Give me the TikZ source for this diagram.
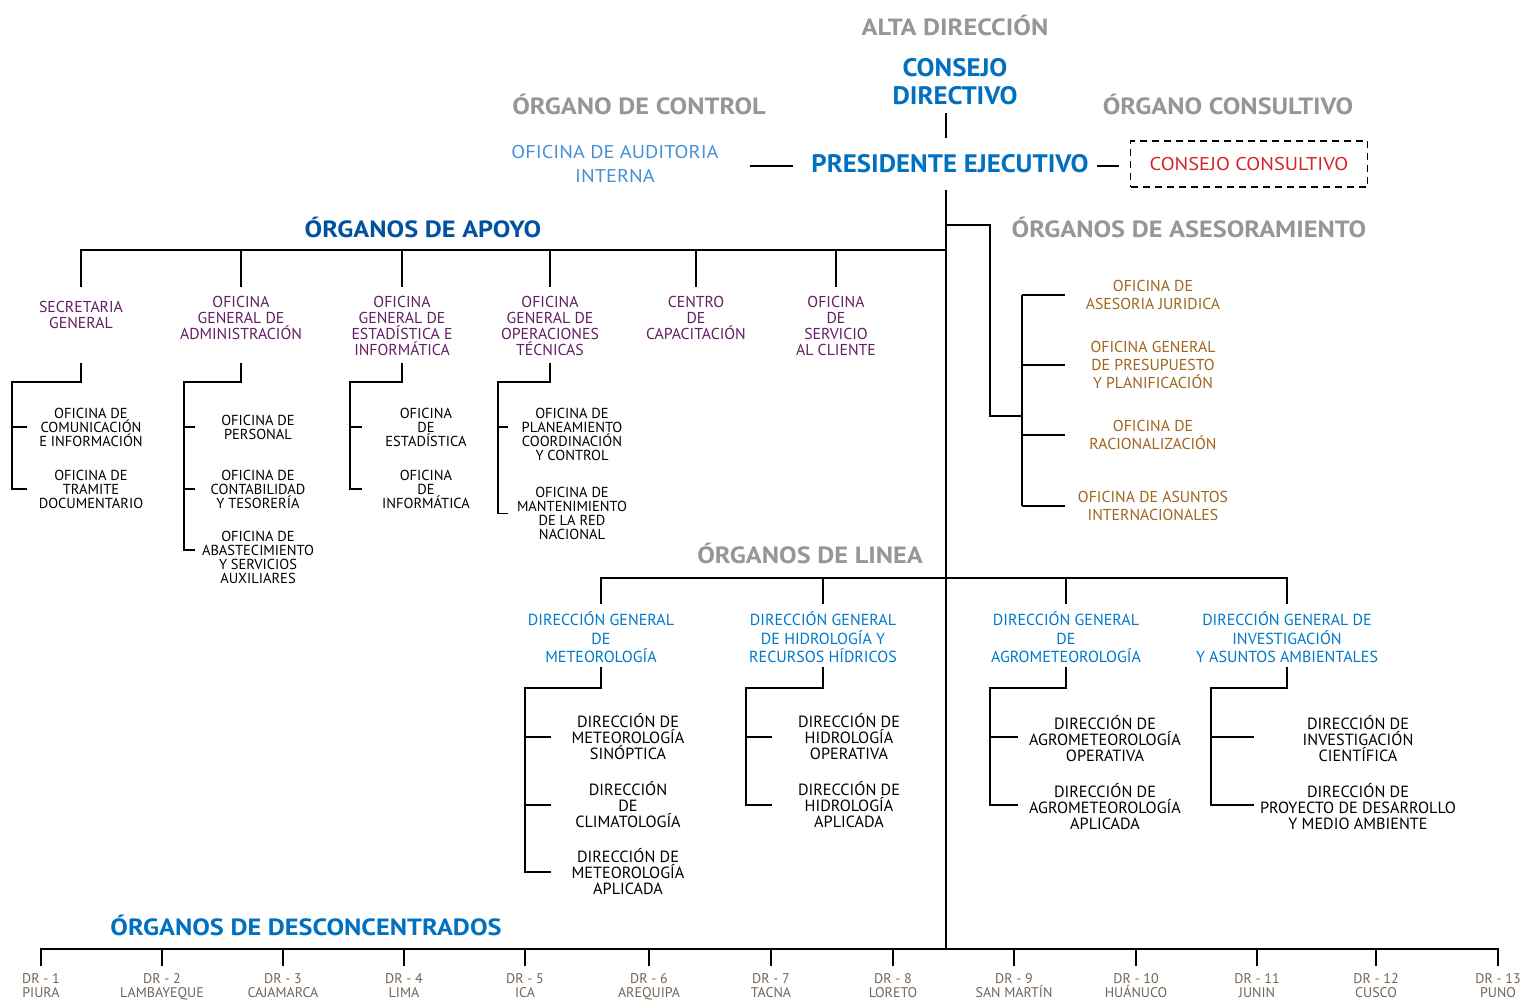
\documentclass[tikz,border=0pt]{standalone}
\usepackage{fontspec}
\setmainfont{PT Sans}
\newfontfamily\headfont{PT Sans}[FakeStretch=1.12]
\newfontfamily\jefefont{PT Sans}[FakeStretch=1.06]
\newfontfamily\anchafont{PT Sans}[FakeStretch=1.1]
\usepackage{xcolor}
\definecolor{grisT}{RGB}{150,150,150}
\definecolor{azulD}{RGB}{0,112,192}
\definecolor{azulA}{RGB}{0,82,160}
\definecolor{celeste}{RGB}{70,145,210}
\definecolor{azulL}{RGB}{0,120,200}
\definecolor{morado}{RGB}{100,30,100}
\definecolor{marron}{RGB}{160,100,30}
\definecolor{rojoC}{RGB}{215,35,40}
\definecolor{grisDR}{RGB}{115,100,85}
\tikzset{
  every node/.style={inner sep=0pt, align=center},
  titulo/.style={font=\headfont\bfseries\fontsize{23.5}{26}\selectfont, text=grisT},
  grupo/.style={font=\headfont\bfseries\fontsize{23.5}{26}\selectfont},
  jefe/.style={font=\jefefont\bfseries\fontsize{25.3}{28}\selectfont, text=azulD},
  audit/.style={font=\anchafont\fontsize{18.5}{24}\selectfont, text=celeste},
  consejo/.style={font=\anchafont\fontsize{18.5}{24}\selectfont, text=rojoC, draw, dash pattern=on 7pt off 5pt,
    minimum width=237pt, minimum height=46pt},
  apoyo/.style={font=\fontsize{15.8}{16}\selectfont, text=morado},
  sub/.style={font=\fontsize{14.5}{14}\selectfont},
  ases/.style={font=\fontsize{15.8}{18}\selectfont, text=marron},
  linea/.style={font=\fontsize{16}{18.5}\selectfont, text=azulL},
  subl/.style={font=\fontsize{16.2}{16}\selectfont},
  dr/.style={font=\fontsize{14}{13.5}\selectfont, text=grisDR, anchor=north}
}
\begin{document}
\begin{tikzpicture}[x=1pt,y=-1pt,line width=1.6pt]
  \useasboundingbox (0,0) rectangle (1525,999);
  % alta direccion
  \node[titulo] (alta) at (955,25) {ALTA DIRECCIÓN};
  \node[jefe] (cd) at (955,82) {CONSEJO\\DIRECTIVO};
  \node[titulo] (ctrl) at (639,104) {ÓRGANO DE CONTROL};
  \node[titulo] (cons) at (1228,104) {ÓRGANO CONSULTIVO};
  \node[audit] (audi) at (615,164) {OFICINA DE AUDITORIA\\INTERNA};
  \node[jefe] (pe) at (950,164) {PRESIDENTE EJECUTIVO};
  \node[consejo] (ccs) at (1249,164) {CONSEJO CONSULTIVO};
  \coordinate (t0) at (946,113);
  \coordinate (t1) at (946,138);
  \coordinate (t2) at (946,190);
  \coordinate (t3) at (946,949);
  \coordinate (auR) at (750,166);
  \coordinate (peL) at (793,166);
  \coordinate (peR) at (1097,166);
  \coordinate (ccL) at (1119,166);
  \draw (t0) to (t1);
  \draw (t2) to (t3);
  \draw (auR) to (peL);
  \draw (peR) to (ccL);

  % organos de apoyo
  \node[grupo, text=azulA] (apoyo) at (423,227) {ÓRGANOS DE APOYO};
  \node[apoyo] (sg) at (81,315) {SECRETARIA\\GENERAL};
  \node[apoyo] (oga) at (241,318) {OFICINA\\GENERAL DE\\ADMINISTRACIÓN};
  \node[apoyo] (ogei) at (402,325.5) {OFICINA\\GENERAL DE\\ESTADÍSTICA E\\INFORMÁTICA};
  \node[apoyo] (ogot) at (550,325.5) {OFICINA\\GENERAL DE\\OPERACIONES\\TÉCNICAS};
  \node[apoyo] (cdc) at (696,318) {CENTRO\\DE\\CAPACITACIÓN};
  \node[apoyo] (osc) at (836,325.5) {OFICINA\\DE\\SERVICIO\\AL CLIENTE};
  \coordinate (apB) at (0,250);
  \coordinate (apE) at (0,287);
  \coordinate (apS) at (0,363);
  \draw (sg |- apE) to (sg |- apB) to (t2 |- apB);
  \draw (oga |- apE) to (oga |- apB);
  \draw (ogei |- apE) to (ogei |- apB);
  \draw (ogot |- apE) to (ogot |- apB);
  \draw (cdc |- apE) to (cdc |- apB);
  \draw (osc |- apE) to (osc |- apB);

  \node[sub] (oci) at (91,427) {OFICINA DE\\COMUNICACIÓN\\E INFORMACIÓN};
  \node[sub] (otd) at (91,489) {OFICINA DE\\TRAMITE\\DOCUMENTARIO};
  \coordinate (sgS) at (12,382);
  \draw (sg |- apS) to (sg |- sgS) to (sgS) to (sgS |- otd) to ++(15,0);
  \draw (sgS |- oci) to ++(15,0);

  \node[sub] (ope) at (258,427) {OFICINA DE\\PERSONAL};
  \node[sub] (oct) at (258,489) {OFICINA DE\\CONTABILIDAD\\Y TESORERÍA};
  \node[sub] (oas) at (258,557) {OFICINA DE\\ABASTECIMIENTO\\Y SERVICIOS\\AUXILIARES};
  \coordinate (ogaS) at (184,382);
  \coordinate (ogaF) at (184,550);
  \draw (oga |- apS) to (oga |- ogaS) to (ogaS) to (ogaF) to ++(11,0);
  \draw (ogaS |- ope) to ++(11,0);
  \draw (ogaS |- oct) to ++(11,0);

  \node[sub] (oes) at (426,427) {OFICINA\\DE\\ESTADÍSTICA};
  \node[sub] (oin) at (426,489) {OFICINA\\DE\\INFORMÁTICA};
  \coordinate (ogeiS) at (350,382);
  \draw (ogei |- apS) to (ogei |- ogeiS) to (ogeiS) to (ogeiS |- oin) to ++(12,0);
  \draw (ogeiS |- oes) to ++(12,0);

  \node[sub] (opc) at (572,434) {OFICINA DE\\PLANEAMIENTO\\COORDINACIÓN\\Y CONTROL};
  \node[sub] (omr) at (572,513.5) {OFICINA DE\\MANTENIMIENTO\\DE LA RED\\NACIONAL};
  \coordinate (ogotS) at (498,382);
  \coordinate (ogotT) at (498,427);
  \draw (ogot |- apS) to (ogot |- ogotS) to (ogotS) to (ogotS |- omr) to ++(10,0);
  \draw (ogotT) to ++(10,0);

  % organos de asesoramiento
  \node[titulo] (ases) at (1189,227) {ÓRGANOS DE ASESORAMIENTO};
  \node[ases] (oaj) at (1153,295) {OFICINA DE\\ASESORIA JURIDICA};
  \node[ases] (ogpp) at (1153,365) {OFICINA GENERAL\\DE PRESUPUESTO\\Y PLANIFICACIÓN};
  \node[ases] (ora) at (1153,435) {OFICINA DE\\RACIONALIZACIÓN};
  \node[ases] (oasi) at (1153,506) {OFICINA DE ASUNTOS\\INTERNACIONALES};
  \coordinate (asA) at (990,225);
  \coordinate (asB) at (1022,416);
  \draw (t2 |- asA) to (asA) |- (asB);
  \draw (asB |- oaj) to (asB |- oasi);
  \draw (asB |- oaj) to ++(43,0);
  \draw (asB |- ogpp) to ++(43,0);
  \draw (asB |- ora) to ++(43,0);
  \draw (asB |- oasi) to ++(43,0);

  % organos de linea
  \node[titulo] (linea) at (810,553) {ÓRGANOS DE LINEA};
  \node[linea] (dgm) at (601,637.5) {DIRECCIÓN GENERAL\\DE\\METEOROLOGÍA};
  \node[linea] (dgh) at (823,637.5) {DIRECCIÓN GENERAL\\DE HIDROLOGÍA Y\\RECURSOS HÍDRICOS};
  \node[linea] (dga) at (1066,637.5) {DIRECCIÓN GENERAL\\DE\\AGROMETEOROLOGÍA};
  \node[linea] (dgi) at (1287,637.5) {DIRECCIÓN GENERAL DE\\INVESTIGACIÓN\\Y ASUNTOS AMBIENTALES};
  \coordinate (liB) at (0,578);
  \coordinate (liE) at (0,604);
  \coordinate (liS) at (0,667);
  \draw (dgm |- liE) to (dgm |- liB) to (dgi |- liB) to (dgi |- liE);
  \draw (dgh |- liE) to (dgh |- liB);
  \draw (dga |- liE) to (dga |- liB);

  \node[subl] (dms) at (628,737) {DIRECCIÓN DE\\METEOROLOGÍA\\SINÓPTICA};
  \node[subl] (dcl) at (628,805) {DIRECCIÓN\\DE\\CLIMATOLOGÍA};
  \node[subl] (dma) at (628,872) {DIRECCIÓN DE\\METEOROLOGÍA\\APLICADA};
  \coordinate (dgmS) at (525,688);
  \draw (dgm |- liS) to (dgm |- dgmS) to (dgmS) to (dgmS |- dma) to ++(26,0);
  \draw (dgmS |- dms) to ++(26,0);
  \draw (dgmS |- dcl) to ++(26,0);

  \node[subl] (dho) at (849,737) {DIRECCIÓN DE\\HIDROLOGÍA\\OPERATIVA};
  \node[subl] (dha) at (849,805) {DIRECCIÓN DE\\HIDROLOGÍA\\APLICADA};
  \coordinate (dghS) at (746,688);
  \draw (dgh |- liS) to (dgh |- dghS) to (dghS) to (dghS |- dha) to ++(26,0);
  \draw (dghS |- dho) to ++(26,0);

  \node[subl] (dao) at (1105,739) {DIRECCIÓN DE\\AGROMETEOROLOGÍA\\OPERATIVA};
  \node[subl] (daa) at (1105,807) {DIRECCIÓN DE\\AGROMETEOROLOGÍA\\APLICADA};
  \coordinate (dgaS) at (990,688);
  \coordinate (dgaT) at (990,737);
  \coordinate (dgaF) at (990,805);
  \draw (dga |- liS) to (dga |- dgaS) to (dgaS) to (dgaF) to ++(28,0);
  \draw (dgaT) to ++(28,0);

  \node[subl] (dic) at (1358,739) {DIRECCIÓN DE\\INVESTIGACIÓN\\CIENTÍFICA};
  \node[subl] (dpd) at (1358,807) {DIRECCIÓN DE\\PROYECTO DE DESARROLLO\\Y MEDIO AMBIENTE};
  \coordinate (dgiS) at (1211,688);
  \coordinate (dgiT) at (1211,737);
  \coordinate (dgiF) at (1211,805);
  \draw (dgi |- liS) to (dgi |- dgiS) to (dgiS) to (dgiF) to ++(43,0);
  \draw (dgiT) to ++(43,0);

  % organos desconcentrados
  \node[grupo, text=azulD] (desc) at (306,925) {ÓRGANOS DE DESCONCENTRADOS};
  \node[dr] (dr1) at (41,973) {DR - 1\\PIURA};
  \node[dr] (dr2) at (162,973) {DR - 2\\LAMBAYEQUE};
  \node[dr] (dr3) at (283,973) {DR - 3\\CAJAMARCA};
  \node[dr] (dr4) at (404,973) {DR - 4\\LIMA};
  \node[dr] (dr5) at (525,973) {DR - 5\\ICA};
  \node[dr] (dr6) at (649,973) {DR - 6\\AREQUIPA};
  \node[dr] (dr7) at (771,973) {DR - 7\\TACNA};
  \node[dr] (dr8) at (893,973) {DR - 8\\LORETO};
  \node[dr] (dr9) at (1014,973) {DR - 9\\SAN MARTÍN};
  \node[dr] (dr10) at (1136,973) {DR - 10\\HUÁNUCO};
  \node[dr] (dr11) at (1257,973) {DR - 11\\JUNIN};
  \node[dr] (dr12) at (1376,973) {DR - 12\\CUSCO};
  \node[dr] (dr13) at (1498,973) {DR - 13\\PUNO};
  \coordinate (drB) at (0,949);
  \coordinate (drE) at (0,966);
  \draw (dr1 |- drE) to (dr1 |- drB) to (dr13 |- drB) to (dr13 |- drE);
  \draw (dr2 |- drE) to (dr2 |- drB);
  \draw (dr3 |- drE) to (dr3 |- drB);
  \draw (dr4 |- drE) to (dr4 |- drB);
  \draw (dr5 |- drE) to (dr5 |- drB);
  \draw (dr6 |- drE) to (dr6 |- drB);
  \draw (dr7 |- drE) to (dr7 |- drB);
  \draw (dr8 |- drE) to (dr8 |- drB);
  \draw (dr9 |- drE) to (dr9 |- drB);
  \draw (dr10 |- drE) to (dr10 |- drB);
  \draw (dr11 |- drE) to (dr11 |- drB);
  \draw (dr12 |- drE) to (dr12 |- drB);
\end{tikzpicture}
\end{document}
